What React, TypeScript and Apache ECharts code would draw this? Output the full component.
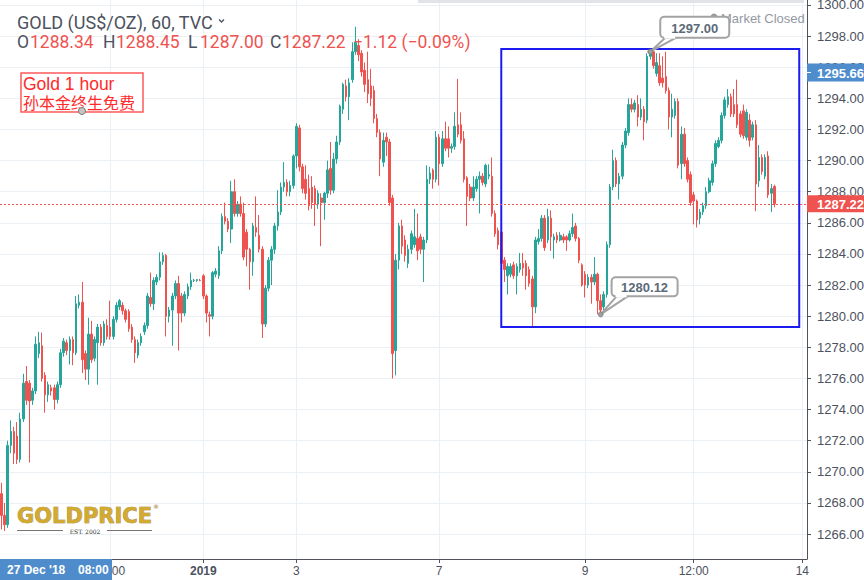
import React, { useEffect, useRef } from "react";
import * as echarts from "echarts";

// Each bar: [open, close, low, high]  (hourly candles)
const part1: number[][] = [
  [1268.6, 1267.2, 1266.3, 1269.3], [1267.2, 1266.6, 1266.2, 1268.0], [1266.6, 1271.7, 1266.4, 1272.0], [1271.7, 1272.6, 1271.2, 1273.3],
  [1272.6, 1271.2, 1270.5, 1272.9], [1272.3, 1270.8, 1270.5, 1273.2], [1270.8, 1273.4, 1270.6, 1273.8], [1273.4, 1275.7, 1273.2, 1276.3],
  [1275.8, 1274.6, 1274.3, 1276.8], [1275.7, 1274.55, 1270.6, 1275.9], [1274.6, 1275.2, 1274.3, 1275.4], [1275.2, 1278.2, 1275.0, 1278.7],
  [1277.6, 1278.3, 1277.3, 1279.0], [1278.1, 1276.0, 1275.8, 1278.95], [1276.2, 1274.95, 1273.8, 1276.4], [1274.95, 1275.6, 1274.5, 1275.8],
  [1275.4, 1275.2, 1274.9, 1275.6], [1275.4, 1274.65, 1274.0, 1275.6], [1274.65, 1275.6, 1274.4, 1275.8], [1275.6, 1277.65, 1275.4, 1277.9],
  [1277.65, 1278.4, 1277.4, 1278.6], [1278.3, 1277.8, 1277.5, 1278.5], [1277.8, 1278.5, 1276.9, 1278.7], [1278.5, 1277.65, 1276.85, 1278.7],
  [1277.65, 1280.8, 1277.5, 1281.3], [1280.7, 1280.9, 1280.5, 1281.4], [1280.9, 1277.2, 1276.35, 1282.2], [1277.6, 1276.6, 1275.9, 1277.8],
  [1276.6, 1278.85, 1275.6, 1279.9], [1278.85, 1277.2, 1277.0, 1279.7], [1277.3, 1278.5, 1277.1, 1278.7], [1278.3, 1279.3, 1275.6, 1279.5],
  [1279.3, 1278.3, 1278.1, 1279.5], [1278.3, 1279.5, 1278.1, 1279.7], [1279.4, 1278.7, 1278.5, 1279.8], [1279.3, 1278.7, 1278.5, 1281.0],
  [1278.7, 1279.8, 1278.5, 1280.0], [1279.8, 1280.7, 1279.6, 1280.9], [1280.6, 1281.0, 1280.4, 1281.1], [1280.7, 1280.35, 1280.1, 1280.9],
  [1280.35, 1279.8, 1279.6, 1280.5], [1280.3, 1279.2, 1279.0, 1280.45], [1279.3, 1278.5, 1278.3, 1279.5], [1278.5, 1277.65, 1277.0, 1278.7],
];
const part2: number[][] = [
  [1277.5, 1278.3, 1277.3, 1278.5], [1278.3, 1278.7, 1278.1, 1278.9], [1279.0, 1279.4, 1278.8, 1279.6], [1279.4, 1281.3, 1279.2, 1281.5],
  [1281.2, 1280.8, 1280.6, 1282.8], [1280.8, 1282.3, 1280.4, 1282.5], [1282.2, 1282.5, 1282.0, 1282.7], [1282.5, 1283.5, 1282.3, 1284.1],
  [1283.5, 1283.9, 1283.3, 1284.1], [1283.9, 1280.0, 1278.7, 1284.0], [1280.0, 1280.4, 1279.6, 1280.6], [1280.4, 1281.3, 1278.1, 1281.5],
  [1281.3, 1282.1, 1281.1, 1282.3], [1282.1, 1280.2, 1277.8, 1282.6], [1281.3, 1280.2, 1279.6, 1281.5], [1280.2, 1281.4, 1280.0, 1281.6],
  [1281.3, 1281.9, 1281.1, 1282.1], [1281.9, 1282.3, 1281.7, 1282.8], [1282.3, 1282.3, 1282.2, 1282.4], [1282.3, 1282.35, 1282.2, 1282.4],
  [1282.3, 1282.3, 1282.25, 1282.4], [1282.6, 1281.3, 1281.1, 1282.7], [1281.3, 1280.2, 1279.6, 1281.4], [1280.1, 1280.0, 1278.7, 1280.3],
  [1280.0, 1282.8, 1279.8, 1282.9], [1282.7, 1282.9, 1282.5, 1283.1], [1282.6, 1284.2, 1282.4, 1284.5], [1284.2, 1286.4, 1284.0, 1286.6],
  [1286.4, 1286.1, 1285.9, 1287.3], [1286.1, 1285.6, 1285.4, 1286.3], [1285.6, 1288.0, 1284.7, 1288.7], [1288.0, 1286.6, 1286.4, 1288.8],
  [1286.6, 1287.2, 1286.4, 1287.4], [1287.2, 1286.6, 1286.4, 1287.7], [1286.6, 1283.8, 1283.6, 1287.3], [1285.4, 1284.3, 1283.2, 1285.6],
  [1284.3, 1283.5, 1281.7, 1284.4], [1283.5, 1285.8, 1282.6, 1286.0], [1285.7, 1285.4, 1285.1, 1287.7], [1285.2, 1284.3, 1284.1, 1286.5],
  [1284.3, 1279.5, 1278.6, 1284.5], [1279.5, 1281.8, 1279.3, 1282.0], [1281.8, 1283.6, 1281.6, 1283.8],
];
const part3: number[][] = [
  [1283.6, 1284.3, 1282.0, 1284.5], [1284.3, 1285.8, 1284.0, 1286.0], [1285.8, 1286.7, 1285.5, 1288.1], [1286.7, 1288.3, 1286.5, 1288.6],
  [1288.3, 1288.6, 1288.0, 1289.9], [1288.6, 1288.0, 1287.7, 1288.8], [1288.0, 1288.4, 1287.7, 1288.7], [1288.4, 1290.3, 1288.2, 1290.4],
  [1290.3, 1292.2, 1289.5, 1292.4], [1292.1, 1289.6, 1289.3, 1292.3], [1289.6, 1288.2, 1287.9, 1289.8], [1288.8, 1287.9, 1287.5, 1289.7],
  [1288.2, 1287.1, 1286.8, 1289.1], [1288.3, 1287.3, 1286.9, 1289.0], [1288.2, 1287.2, 1285.8, 1288.4], [1287.2, 1287.9, 1286.9, 1288.1],
  [1287.6, 1287.3, 1284.5, 1287.9], [1287.3, 1287.9, 1286.2, 1288.0], [1287.9, 1289.4, 1287.6, 1290.0], [1289.5, 1288.1, 1287.8, 1291.2],
  [1288.1, 1290.1, 1287.9, 1290.5], [1290.1, 1291.2, 1289.8, 1291.6], [1291.2, 1293.5, 1291.0, 1293.6], [1293.3, 1294.9, 1293.0, 1295.0],
  [1294.8, 1294.1, 1293.8, 1295.2], [1294.1, 1295.0, 1292.6, 1295.3], [1295.2, 1297.0, 1295.0, 1297.6], [1297.0, 1297.6, 1296.8, 1298.6],
  [1297.4, 1296.8, 1296.4, 1297.8], [1296.9, 1295.7, 1295.4, 1297.1], [1295.8, 1294.9, 1294.4, 1296.3], [1295.2, 1294.3, 1293.7, 1297.0],
  [1294.8, 1294.0, 1293.5, 1295.9], [1294.5, 1292.7, 1292.4, 1294.8], [1292.7, 1291.8, 1291.5, 1293.0], [1291.8, 1290.1, 1289.0, 1292.0],
  [1289.9, 1291.3, 1289.6, 1291.8], [1291.5, 1291.2, 1290.3, 1291.8], [1291.2, 1287.3, 1287.1, 1291.4], [1287.6, 1277.6, 1276.0, 1287.8],
  [1277.8, 1283.6, 1276.2, 1284.0], [1283.6, 1285.8, 1283.0, 1286.0], [1285.8, 1284.5, 1284.0, 1286.2], [1284.9, 1283.9, 1283.5, 1285.2],
  [1283.4, 1284.3, 1283.1, 1284.6],
];
const part4: number[][] = [
  [1284.3, 1285.3, 1284.0, 1285.5], [1284.6, 1285.1, 1284.4, 1286.9], [1285.0, 1284.2, 1283.6, 1286.6], [1285.1, 1284.3, 1284.0, 1285.3],
  [1284.3, 1284.9, 1282.2, 1285.1], [1284.9, 1288.8, 1284.7, 1289.7], [1288.8, 1289.2, 1288.5, 1289.6], [1289.4, 1288.8, 1288.2, 1289.5],
  [1288.8, 1291.5, 1288.6, 1291.9], [1291.5, 1289.8, 1288.4, 1291.7], [1289.8, 1291.4, 1289.6, 1291.9], [1291.4, 1290.8, 1290.6, 1292.5],
  [1291.4, 1290.8, 1290.2, 1292.2], [1290.8, 1290.9, 1290.5, 1291.1], [1290.9, 1292.2, 1290.7, 1293.1], [1292.3, 1291.7, 1291.5, 1295.25],
  [1292.3, 1291.3, 1291.1, 1293.1], [1291.4, 1288.8, 1288.6, 1291.9], [1288.9, 1287.7, 1285.8, 1289.0], [1288.3, 1287.6, 1287.4, 1288.5],
  [1287.6, 1288.3, 1287.4, 1289.0], [1288.2, 1288.8, 1288.0, 1289.0], [1288.8, 1289.0, 1286.6, 1289.3], [1289.0, 1288.6, 1288.4, 1289.2],
  [1288.5, 1289.7, 1288.3, 1289.8], [1289.0, 1289.1, 1288.8, 1289.76], [1289.0, 1286.6, 1286.4, 1290.2], [1286.6, 1285.3, 1285.1, 1286.8],
  [1285.5, 1284.6, 1284.3, 1285.7], [1285.4, 1283.4, 1283.2, 1285.6], [1283.6, 1283.0, 1282.2, 1283.8], [1282.6, 1283.2, 1281.4, 1283.4],
  [1282.7, 1283.2, 1282.5, 1283.4], [1283.3, 1282.6, 1282.4, 1283.5], [1282.6, 1283.2, 1281.4, 1283.4], [1283.0, 1283.4, 1282.8, 1284.06],
  [1283.4, 1283.1, 1282.6, 1284.06], [1283.4, 1282.6, 1281.7, 1283.6], [1283.0, 1282.1, 1281.9, 1283.2], [1282.4, 1280.6, 1279.3, 1282.6],
  [1280.6, 1284.9, 1280.2, 1285.1], [1284.8, 1285.0, 1284.6, 1285.6],
];
const part5: number[][] = [
  [1285.0, 1286.3, 1284.8, 1286.5], [1286.3, 1284.4, 1284.2, 1286.5], [1284.9, 1286.4, 1284.7, 1286.9], [1286.3, 1285.1, 1284.2, 1286.8],
  [1284.9, 1285.1, 1283.7, 1285.3], [1285.2, 1284.9, 1284.7, 1285.4], [1284.9, 1285.2, 1284.8, 1285.4], [1285.1, 1284.9, 1284.7, 1285.3],
  [1285.1, 1284.9, 1284.2, 1285.2], [1284.9, 1285.3, 1284.8, 1285.5], [1285.3, 1285.7, 1285.1, 1286.6], [1285.8, 1285.0, 1284.8, 1286.0],
  [1285.0, 1283.6, 1283.4, 1285.1], [1283.3, 1282.0, 1281.9, 1283.4], [1282.7, 1282.0, 1281.2, 1282.9], [1282.0, 1282.5, 1281.8, 1282.7],
  [1282.5, 1282.2, 1280.8, 1282.7], [1282.2, 1282.7, 1282.0, 1283.8], [1282.7, 1281.0, 1280.15, 1282.8], [1281.0, 1280.4, 1280.12, 1281.4],
  [1280.6, 1281.4, 1280.4, 1281.6], [1281.4, 1284.6, 1281.2, 1284.8], [1284.6, 1288.3, 1284.4, 1288.5], [1288.3, 1290.0, 1288.1, 1290.7],
  [1290.0, 1288.5, 1288.3, 1290.2], [1288.5, 1289.0, 1287.5, 1289.2], [1289.0, 1291.0, 1288.8, 1291.2], [1291.0, 1291.9, 1290.8, 1292.1],
  [1291.8, 1293.6, 1291.6, 1294.0], [1293.6, 1293.3, 1293.1, 1294.0], [1293.3, 1293.7, 1293.1, 1293.9], [1293.6, 1292.8, 1292.2, 1294.2],
  [1292.8, 1293.3, 1292.6, 1294.0], [1293.3, 1292.5, 1291.3, 1293.5], [1292.6, 1296.7, 1292.4, 1296.9], [1296.7, 1297.0, 1296.5, 1297.0],
  [1297.0, 1296.1, 1295.9, 1297.0], [1295.6, 1296.3, 1295.4, 1296.9], [1296.1, 1295.0, 1294.8, 1296.9], [1295.3, 1295.0, 1294.7, 1296.7],
  [1295.4, 1294.5, 1294.3, 1297.0], [1294.5, 1292.8, 1292.0, 1294.7],
];
const part6: number[][] = [
  [1292.8, 1293.3, 1291.5, 1294.3], [1292.9, 1293.8, 1292.7, 1294.0], [1293.8, 1289.7, 1289.5, 1294.0], [1289.8, 1291.7, 1288.8, 1292.2],
  [1291.7, 1289.8, 1289.6, 1292.1], [1290.0, 1288.8, 1288.6, 1290.2], [1289.1, 1287.3, 1287.1, 1289.3], [1287.8, 1287.4, 1285.9, 1288.0],
  [1287.4, 1286.2, 1285.7, 1287.5], [1286.3, 1286.7, 1285.9, 1286.9], [1286.7, 1287.1, 1286.5, 1287.3], [1287.1, 1288.0, 1286.9, 1288.3],
  [1288.0, 1288.7, 1287.9, 1288.9], [1288.6, 1289.8, 1288.4, 1290.0], [1289.8, 1291.1, 1289.6, 1291.3], [1290.9, 1291.3, 1290.8, 1291.5],
  [1291.3, 1292.9, 1291.1, 1293.1], [1292.9, 1293.9, 1292.7, 1294.1], [1293.6, 1294.1, 1293.4, 1294.6], [1294.1, 1293.0, 1292.8, 1294.3],
  [1293.6, 1293.0, 1292.8, 1294.6], [1293.6, 1292.3, 1292.1, 1295.2], [1293.0, 1291.7, 1291.5, 1293.2], [1293.2, 1291.6, 1291.4, 1293.6],
  [1291.5, 1293.1, 1291.3, 1293.3], [1292.6, 1291.3, 1290.9, 1293.0], [1291.5, 1292.3, 1291.3, 1292.5], [1292.3, 1288.5, 1286.75, 1292.6],
  [1288.7, 1290.2, 1288.3, 1291.0], [1290.2, 1289.3, 1289.1, 1290.4], [1289.0, 1290.2, 1288.8, 1290.4], [1290.3, 1287.8, 1287.6, 1290.6],
  [1287.9, 1288.2, 1286.7, 1288.5], [1288.34, 1287.22, 1287.0, 1288.45],
];

const slotCount = 260; // hourly slots shown on the axis (last ones are empty future space)
const timeLabels: [number, string][] = [
  [35, "12:00"], [65, "2019"], [95, "3"], [141, "7"], [188, "9"], [223, "12:00"], [258, "14"],
];
const priceTicks = [1266, 1268, 1270, 1272, 1274, 1276, 1278, 1280, 1282, 1284, 1286, 1288, 1290, 1292, 1294, 1296, 1298, 1300];
const priceMin = 1264.4;
const priceMax = 1300.32;
const lastPrice = 1287.22;
const markedPrice = 1295.66;
const highNote = { index: 209, price: 1297.0, text: "1297.00" };
const lowNote = { index: 193, price: 1280.12, text: "1280.12" };
const boxZone = { from: 161, to: 257, top: 1297.17, bottom: 1279.31 };

const UP = "#26a69a";
const DOWN = "#ef5350";
const GRID = "#ebf0f5";
const AXIS = "#50535e";
const TXT = "#4c525e";
const BLUE_TAG = "#4e8ccc";

export default function App() {
  const ref = useRef<HTMLDivElement>(null);
  useEffect(() => {
    if (!ref.current) return;
    const chart = echarts.init(ref.current, null, { renderer: "svg" });
    const candles = [...part1, ...part2, ...part3, ...part4, ...part5, ...part6];
    const categories = Array.from({ length: slotCount }, (_, i) => String(i));
    const labelAt = new Map<number, string>(timeLabels);

    chart.setOption({
      animation: false,
      backgroundColor: "#ffffff",
      grid: { left: 0, right: 57, top: 0, bottom: 21, containLabel: false, outerBoundsMode: "none" },
      xAxis: {
        type: "category",
        data: categories,
        boundaryGap: true,
        axisLine: { show: true, lineStyle: { color: AXIS, width: 1 } },
        axisTick: { show: true, alignWithLabel: true, length: 4, interval: (i: number) => labelAt.has(i), lineStyle: { color: AXIS } },
        axisLabel: {
          interval: (i: number) => labelAt.has(i),
          formatter: (_v: string, i: number) => {
            const t = labelAt.get(i);
            if (!t) return "";
            return t === "2019" ? "{b|2019}" : t;
          },
          color: TXT,
          fontSize: 12,
          fontFamily: "Liberation Sans",
          margin: 6,
          rich: { b: { fontWeight: "bold", fontSize: 12, color: TXT, fontFamily: "Liberation Sans" } },
        },
        splitLine: { show: false },
      },
      yAxis: {
        type: "value",
        position: "right",
        min: priceMin,
        max: priceMax,
        axisLine: { show: true, lineStyle: { color: AXIS, width: 1 } },
        axisTick: { show: true, length: 4, customValues: priceTicks, lineStyle: { color: AXIS } },
        axisLabel: {
          customValues: priceTicks,
          formatter: (v: number) => v.toFixed(2),
          color: TXT,
          fontSize: 13,
          fontFamily: "Liberation Sans",
          margin: 10,
        },
        splitLine: { show: false },
      },
      series: [
        {
          type: "line",
          data: [],
          silent: true,
          markLine: {
            silent: true,
            z: 1,
            symbol: ["none", "none"],
            label: { show: false },
            lineStyle: { color: GRID, width: 1, type: "solid" },
            data: [
              ...priceTicks.map((v) => ({ yAxis: v })),
              ...timeLabels.map(([i]) => ({ xAxis: String(i) })),
            ],
          },
        },
        {
          type: "candlestick",
          data: candles,
          barWidth: "66%",
          silent: true,
          z: 2,
          itemStyle: { color: UP, color0: DOWN, borderColor: UP, borderColor0: DOWN, borderWidth: 1 },
          markArea: {
            silent: true,
            z: 6,
            itemStyle: { color: "rgba(0,0,0,0)", borderColor: "#1c1cf0", borderWidth: 2 },
            data: [[
              { xAxis: String(boxZone.from), yAxis: boxZone.top },
              { xAxis: String(boxZone.to), yAxis: boxZone.bottom },
            ]],
          },
          markLine: {
            silent: true,
            z: 7,
            symbol: ["none", "none"],
            label: { show: false },
            lineStyle: { color: DOWN, width: 1, type: [2, 2] },
            data: [{ yAxis: lastPrice }],
          },
        },
      ],
    });

    const px = (i: number, v: number) => chart.convertToPixel({ gridIndex: 0 }, [i, v]) as number[];
    const [hx, hy] = px(highNote.index, highNote.price);
    const [lx, ly] = px(lowNote.index, lowNote.price);
    const yLast = chart.convertToPixel({ yAxisIndex: 0 }, lastPrice) as number;
    const yMarked = chart.convertToPixel({ yAxisIndex: 0 }, markedPrice) as number;
    const axisX = 807;
    const F = "Liberation Sans";
    const HF = "17.5px Roboto";

    const callout = (x: number, y: number, bx: number, by: number, w: number, h: number, text: string) => [
      { type: "polyline", z: 20, shape: { points: [[bx + 5, by + h], [x, y], [bx + 16, by + h]] }, style: { stroke: "#a3a3a3", lineWidth: 2, fill: "#fff" } },
      { type: "rect", z: 21, shape: { x: bx, y: by, width: w, height: h, r: 4 }, style: { fill: "#fff", stroke: "#a3a3a3", lineWidth: 2 } },
      { type: "rect", z: 22, shape: { x: bx + 4, y: by + h - 2, width: 11, height: 3 }, style: { fill: "#fff" } },
      { type: "text", z: 23, x: bx + w / 2, y: by + h / 2 + 1, style: { text, font: `bold 13px "${F}"`, fill: "#5b6a79", align: "center", verticalAlign: "middle" } },
      { type: "circle", z: 24, shape: { cx: x, cy: y, r: 2.5 }, style: { fill: "#9e9e9e", stroke: "#777", lineWidth: 0.8 } },
    ];

    chart.setOption({
      graphic: [
        { type: "rect", z: 10, shape: { x: 418, y: 0, width: 386, height: 3 }, style: { fill: "#e1e3e8" } },
        { type: "text", z: 20, x: 17, y: 22, style: { text: "GOLD (US$/OZ), 60, TVC", font: "18px Roboto", fill: TXT, verticalAlign: "middle" } },
        { type: "polyline", z: 20, shape: { points: [[219, 19.5], [221.5, 22], [224, 19.5]] }, style: { stroke: TXT, lineWidth: 1.3, fill: "none" } },
        { type: "text", z: 20, x: 17, y: 42, style: { text: "O", font: HF, fill: TXT, verticalAlign: "middle" } },
        { type: "text", z: 20, x: 30, y: 42, style: { text: "1288.34", font: HF, fill: DOWN, verticalAlign: "middle" } },
        { type: "text", z: 20, x: 103, y: 42, style: { text: "H", font: HF, fill: TXT, verticalAlign: "middle" } },
        { type: "text", z: 20, x: 116, y: 42, style: { text: "1288.45", font: HF, fill: DOWN, verticalAlign: "middle" } },
        { type: "text", z: 20, x: 188, y: 42, style: { text: "L", font: HF, fill: TXT, verticalAlign: "middle" } },
        { type: "text", z: 20, x: 200, y: 42, style: { text: "1287.00", font: HF, fill: DOWN, verticalAlign: "middle" } },
        { type: "text", z: 20, x: 270, y: 42, style: { text: "C", font: HF, fill: TXT, verticalAlign: "middle" } },
        { type: "text", z: 20, x: 282, y: 42, style: { text: "1287.22", font: HF, fill: DOWN, verticalAlign: "middle" } },
        { type: "text", z: 20, x: 353, y: 42, style: { text: "\u22121.12 (\u22120.09%)", font: HF, fill: DOWN, verticalAlign: "middle" } },

        { type: "rect", z: 20, shape: { x: 21, y: 73, width: 122, height: 39 }, style: { fill: "#fff", stroke: "#ff5a5a", lineWidth: 1.5 } },
        { type: "text", z: 21, x: 23, y: 83.5, style: { text: "Gold 1 hour", font: `17.5px "${F}"`, fill: "#ff2a2a", verticalAlign: "middle" } },
        { type: "text", z: 21, x: 23, y: 101.5, style: { text: "孙本金终生免费", font: '16px "Noto Sans CJK SC"', fill: "#ff2a2a", verticalAlign: "middle" } },
        { type: "circle", z: 22, shape: { cx: 82, cy: 111, r: 3.5 }, style: { fill: "#c4c4c4", stroke: "#777", lineWidth: 1 } },

        { type: "circle", z: 20, shape: { cx: 714, cy: 17, r: 3.5 }, style: { fill: "#9a9a9a" } },
        { type: "text", z: 20, x: 721, y: 18, style: { text: "Market Closed", font: `13px "${F}"`, fill: "#9598a1", verticalAlign: "middle" } },

        ...callout(hx, hy, hx + 10, hy - 35, 69, 21, highNote.text),
        ...callout(lx, ly, lx + 11, ly - 37, 66, 19, lowNote.text),

        { type: "rect", z: 30, shape: { x: axisX, y: yMarked - 9, width: 57, height: 18 }, style: { fill: BLUE_TAG } },
        { type: "line", z: 31, shape: { x1: axisX, y1: yMarked, x2: axisX + 4, y2: yMarked }, style: { stroke: "#ffffff", lineWidth: 1 } },
        { type: "text", z: 31, x: axisX + 10, y: yMarked + 1, style: { text: markedPrice.toFixed(2), font: `bold 13px "${F}"`, fill: "#fff", verticalAlign: "middle" } },
        { type: "rect", z: 30, shape: { x: axisX, y: yLast - 8.5, width: 57, height: 17 }, style: { fill: DOWN } },
        { type: "text", z: 31, x: axisX + 10, y: yLast + 1, style: { text: lastPrice.toFixed(2), font: `bold 13px "${F}"`, fill: "#fff", verticalAlign: "middle" } },

        { type: "rect", z: 30, shape: { x: 0, y: 559, width: 112, height: 21 }, style: { fill: BLUE_TAG } },
        { type: "text", z: 31, x: 7, y: 570, style: { text: "27 Dec '18", font: `bold 12px "${F}"`, fill: "#fff", verticalAlign: "middle" } },
        { type: "text", z: 31, x: 78, y: 570, style: { text: "08:00", font: `bold 12px "${F}"`, fill: "#fff", verticalAlign: "middle" } },

        { type: "text", z: 20, x: 17, y: 515.5, style: { text: "GOLDPRICE", font: 'bold 21px "DejaVu Sans"', fill: "#d2aa32", stroke: "#8a6a12", lineWidth: 0.6, verticalAlign: "middle" } },
        { type: "text", z: 20, x: 153, y: 506, style: { text: "®", font: '6px "DejaVu Sans"', fill: "#8a6a12", verticalAlign: "middle" } },
        { type: "line", z: 20, shape: { x1: 17, y1: 530.5, x2: 63, y2: 530.5 }, style: { stroke: "#777", lineWidth: 1 } },
        { type: "line", z: 20, shape: { x1: 107, y1: 530.5, x2: 152, y2: 530.5 }, style: { stroke: "#777", lineWidth: 1 } },
        { type: "text", z: 20, x: 85, y: 531, style: { text: "EST. 2002", font: '6px "DejaVu Serif"', fill: "#333", align: "center", verticalAlign: "middle" } },
      ],
    });

    return () => chart.dispose();
  }, []);

  return (
    <div
      ref={ref}
      style={{ position: "fixed", left: 0, top: 0, width: 864, height: 580, background: "#fff" }}
    />
  );
}
